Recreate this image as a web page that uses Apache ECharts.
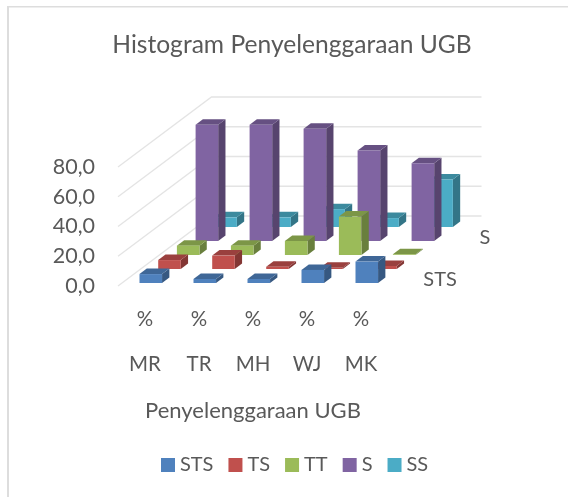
<!DOCTYPE html>
<html><head><meta charset="utf-8">
<script src="https://cdn.jsdelivr.net/npm/echarts@6/dist/echarts.min.js"></script>
<style>html,body{margin:0;padding:0;background:#fff}#c{width:568px;height:497px}</style>
</head><body><div id="c"></div>
<script>
const categories = ['MR','TR','MH','WJ','MK'];
const unitLabel = '%';
const titleText = 'Histogram Penyelenggaraan UGB';
const xAxisName = 'Penyelenggaraan UGB';
const valueTicks = [0,20,40,60,80];
const seriesNames = ['STS','TS','TT','S','SS'];
const depthLabels = ['STS','S'];
const STS = [6.0,2.7,2.7,8.8,14.4];
const TS  = [6.0,9.0,1.5,0.8,2.0];
const TT  = [6.3,6.3,9.4,25.8,0.5];
const S   = [78.1,78.1,75.4,60.8,52.3];
const SS  = [6.5,6.5,12.0,6.0,32.0];
const seriesValues = [STS,TS,TT,S,SS];
const colors = ['#4F81BD','#C0504D','#9BBB59','#8064A2','#4BACC6'];
const FONT = 'Lato';
const TEXT = '#595959';

function shade(hex,f){
  const n=parseInt(hex.slice(1),16);
  const c=[n>>16,(n>>8)&255,n&255].map(v=>Math.round(v*f));
  return 'rgb('+c.join(',')+')';
}
const DX=18.7, DY=14, BAR_DX=7.3, BAR_DY=5.5, DEPTHS=seriesNames.length;

function barRender(depth,color){
  return function(params,api){
    const cat=api.value(0), v=api.value(1);
    const base=api.coord([cat,0]), top=api.coord([cat,v]);
    const band=api.size([1,0])[0];
    const w=band*0.418;
    const x0=base[0]-5.5+depth*DX, x1=x0+w;
    const y0=base[1]-3-depth*DY, y1=y0-(base[1]-top[1]);
    const poly=(pts,fill)=>({type:'polygon',shape:{points:pts},style:{fill:fill}});
    return {type:'group',children:[
      poly([[x1,y0],[x1+BAR_DX,y0-BAR_DY],[x1+BAR_DX,y1-BAR_DY],[x1,y1]],shade(color,0.68)),
      poly([[x0,y1],[x1,y1],[x1+BAR_DX,y1-BAR_DY],[x0+BAR_DX,y1-BAR_DY]],shade(color,0.8)),
      poly([[x0,y0],[x1,y0],[x1,y1],[x0,y1]],color)
    ]};
  };
}
const barSeries=seriesNames.map((name,d)=>({
  type:'custom',name:name,z:20-d,coordinateSystem:'cartesian2d',
  itemStyle:{color:colors[d]},
  renderItem:barRender(d,colors[d]),
  data:seriesValues[d].map((v,i)=>[i,v]),
  encode:{x:0,y:1},silent:true,clip:false
}));
const wallSeries={
  type:'custom',name:'walls',z:1,silent:true,clip:false,
  data:valueTicks.map(v=>[0,v]),encode:{x:0,y:1},
  renderItem:function(params,api){
    const p=api.coord([0,api.value(1)]);
    const band=api.size([1,0])[0];
    const x=p[0]-band/2,y=p[1];
    const bx=x+DEPTHS*DX,by=y-DEPTHS*DY,ex=bx+band*categories.length;
    const st={stroke:'#E4E4E4',lineWidth:1.3,fill:null};
    return {type:'group',children:[
      {type:'polyline',shape:{points:[[x,y],[bx,by],[ex,by]]},style:st}
    ]};
  }
};
const depthSeries={
  type:'custom',name:'depthAxis',z:2,silent:true,clip:false,
  data:depthLabels.map(n=>[categories.length-1,0,seriesNames.indexOf(n)]),
  encode:{x:0,y:1},
  renderItem:function(params,api){
    const p=api.coord([api.value(0),0]);
    const band=api.size([1,0])[0];
    const d=api.value(2);
    return {type:'text',style:{
      text:seriesNames[d],x:p[0]+band/2+(d+0.5)*DX+26,y:p[1]-(d+0.5)*DY+1,
      fill:TEXT,font:'20px '+FONT,align:'left',verticalAlign:'middle'}};
  }
};
const chart=echarts.init(document.getElementById('c'),null,{renderer:'canvas'});
chart.setOption({
  animation:false,backgroundColor:'#fff',
  title:{text:titleText,top:28,textAlign:'center',
    left:287,textStyle:{fontFamily:FONT,fontSize:24.6,fontWeight:'normal',color:TEXT}},
  legend:{data:seriesNames,left:161,top:450,padding:[5,0,5,0],icon:'rect',itemWidth:14,itemHeight:14,itemGap:15,
    textStyle:{fontFamily:FONT,fontSize:20,color:TEXT},selectedMode:false},
  grid:{left:118,top:167,width:270,height:119},
  xAxis:{type:'category',data:categories,boundaryGap:true,
    axisLine:{show:false},axisTick:{show:false},splitLine:{show:false},
    axisLabel:{interval:0,margin:11,fontFamily:FONT,fontSize:20.5,color:TEXT,lineHeight:45,
      formatter:v=>unitLabel+'\n'+v},
    name:xAxisName,nameLocation:'middle',nameGap:114,
    nameTextStyle:{fontFamily:FONT,fontSize:22,color:TEXT}},
  yAxis:{type:'value',min:0,max:80,interval:20,
    axisLine:{show:false},axisTick:{show:false},splitLine:{show:false},
    axisLabel:{margin:23,fontFamily:FONT,fontSize:21.5,color:TEXT,
      formatter:v=>v.toFixed(1).replace('.',',')}},
  graphic:[
    {type:'rect',silent:true,shape:{x:7,y:6,width:561,height:1.5},style:{fill:'#DDDDDD'}},
    {type:'rect',silent:true,shape:{x:7,y:6,width:2,height:491},style:{fill:'#DDDDDD'}}
  ],
  series:[wallSeries,depthSeries].concat(barSeries)
});
</script></body></html>
